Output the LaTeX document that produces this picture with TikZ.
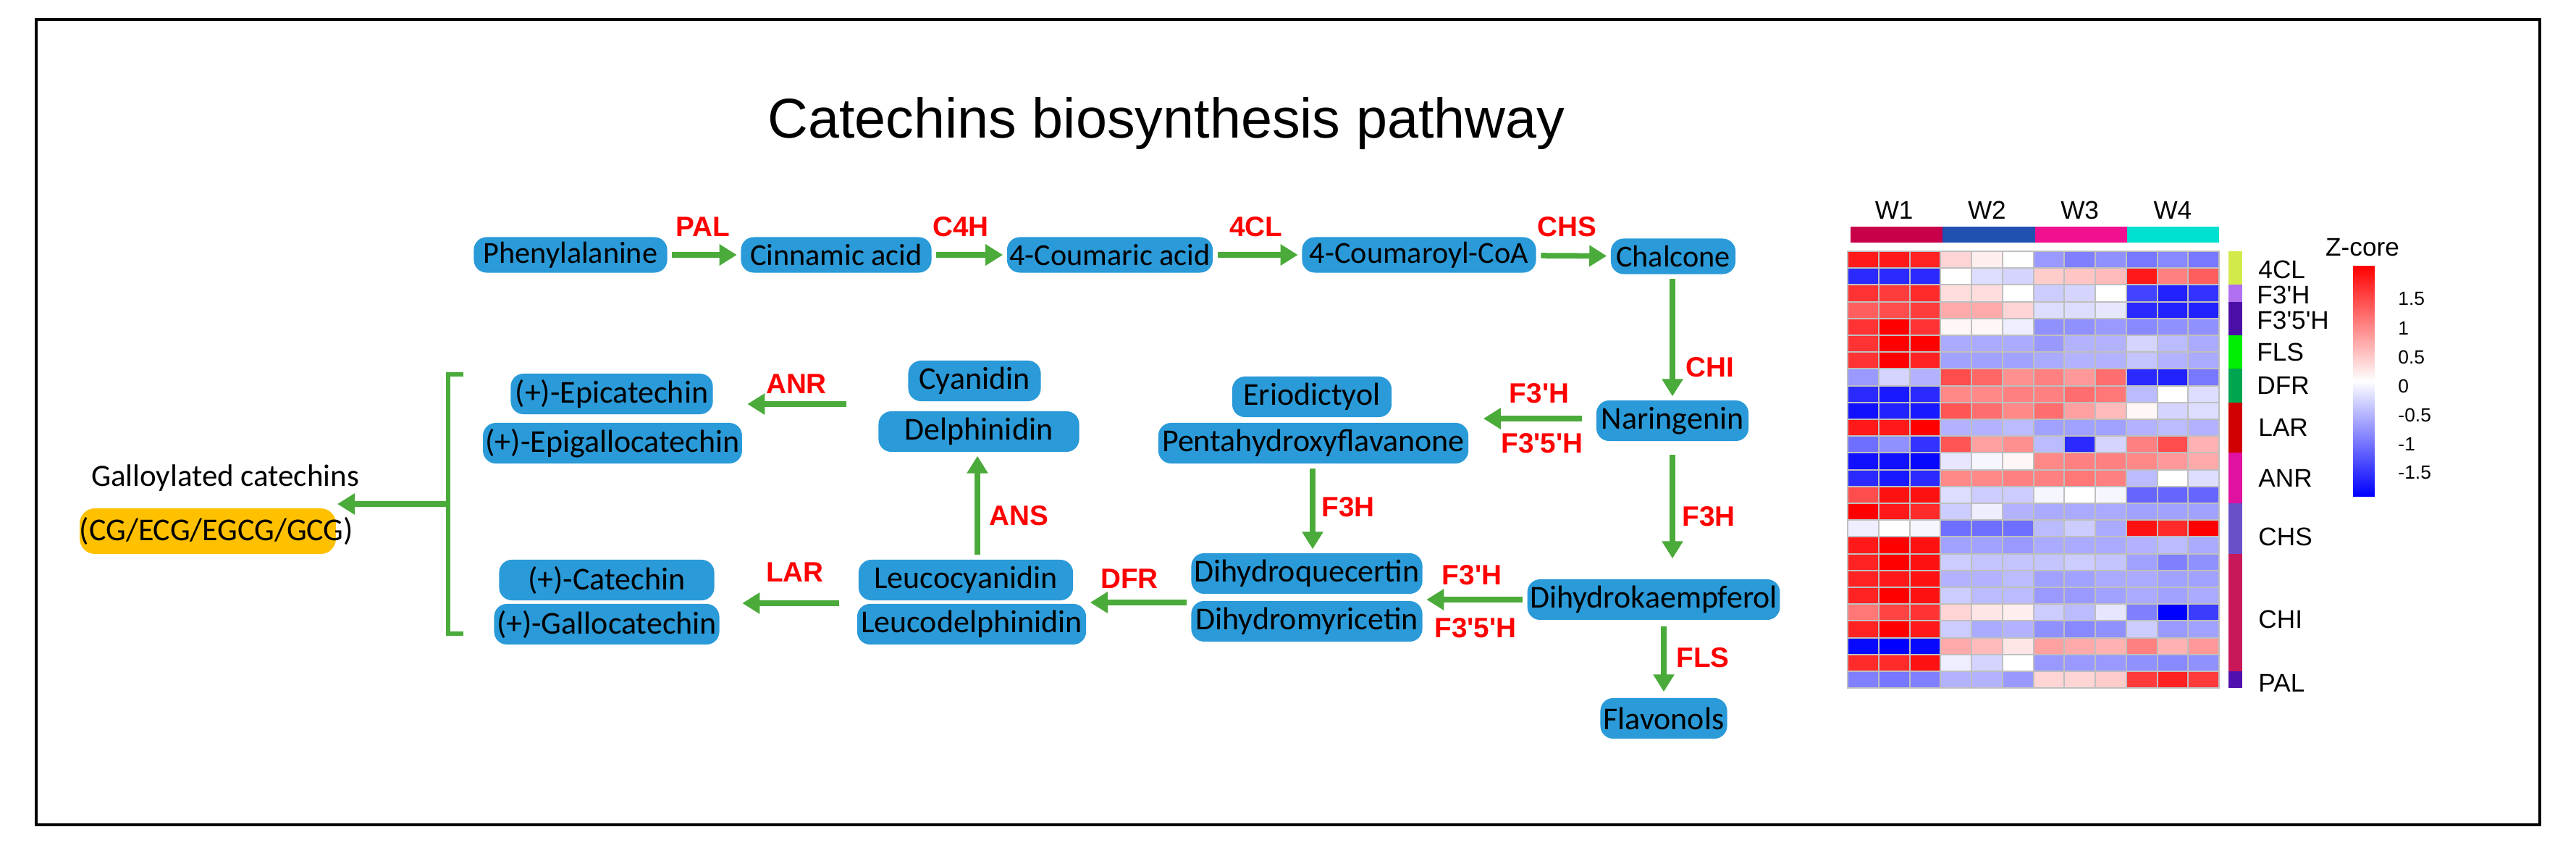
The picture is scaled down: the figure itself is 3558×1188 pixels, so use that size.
\documentclass[tikz,border=0pt]{standalone}
\usepackage{fontspec}
\setmainfont{Carlito}
\newfontfamily\arial{Liberation Sans}
\usetikzlibrary{arrows.meta}
\definecolor{bx}{HTML}{2A9AD8}
\definecolor{gr}{HTML}{4AAA3A}
\definecolor{og}{HTML}{FFC000}
\tikzset{
 box/.style={fill=bx,rounded corners=5pt,inner sep=1pt,minimum height=0.56cm,font=\fontsize{12.5}{12.5}\selectfont,text=black},
 rbox/.style={box,minimum height=0.49cm,font=\fontsize{12}{12}\selectfont},
 arr/.style={draw=gr,line width=0.075cm,-{Triangle[length=0.24cm,width=0.28cm]},shorten <=0.06cm,shorten >=0.05cm},
 enz/.style={text=red,font=\arial\bfseries\fontsize{11}{11}\selectfont},
 hl/.style={font=\arial\fontsize{10}{10}\selectfont},
}
\begin{document}
\begin{tikzpicture}[x=0.01cm,y=-0.01cm]
\useasboundingbox (0,0) rectangle (3558,1188);
\draw[line width=0.04cm] (50,27) rectangle (3508,1139);
\node[font=\arial\fontsize{22}{22}\selectfont] (title) at (1611,170) {Catechins biosynthesis pathway};
% row 1
\node[rbox,minimum width=2.67cm] (phe) at (788,352) {Phenylalanine};
\node[rbox,minimum width=2.63cm] (cin) at (1155,352) {Cinnamic acid};
\node[rbox,minimum width=2.84cm] (cou) at (1533,352) {4-Coumaric acid};
\node[rbox,minimum width=3.23cm] (coa) at (1960,352) {4-Coumaroyl-CoA};
\node[rbox,minimum width=1.72cm] (cha) at (2311,354) {Chalcone};
\draw[arr] (phe) -- (cin); \node[enz] (pal) at (971,313) {PAL};
\draw[arr] (cin) -- (cou); \node[enz] (c4h) at (1327,313) {C4H};
\draw[arr] (cou) -- (coa); \node[enz] (fcl) at (1735,313) {4CL};
\draw[arr] (coa) -- (cha); \node[enz] (chs) at (2164,313) {CHS};
% naringenin
\node[box,minimum width=2.10cm] (nar) at (2310,581) {Naringenin};
\draw[arr] (cha.south-|nar) -- (nar); \node[enz] (chi) at (2362,507) {CHI};
\node[box,minimum width=2.20cm] (eri) at (1812,548) {Eriodictyol};
\node[box,minimum width=4.28cm] (pen) at (1814,612) {Pentahydroxyflavanone};
\coordinate (npy) at (0,578);
\draw[arr,shorten <=0.19cm,shorten >=0.2cm] (nar.west|-npy) -- (pen.east|-npy);
\node[enz] (f3h1) at (2126,543) {F3'H};
\node[enz] (f35h1) at (2130,612) {F3'5'H};
% dihydro
\node[box,minimum width=3.19cm] (dhq) at (1805,792) {Dihydroquecertin};
\node[box,minimum width=3.19cm] (dhm) at (1805,858) {Dihydromyricetin};
\draw[arr] (pen.south-|1813,0) -- (dhq.north-|1813,0); \node[enz] (f3h2) at (1862,700) {F3H};
\node[box,minimum width=3.45cm] (dhk) at (2284,828) {Dihydrokaempferol};
\draw[arr,shorten <=0.18cm,shorten >=0.28cm] (nar) -- (nar|-dhk.north); \node[enz] (f3h3) at (2360,713) {F3H};
\draw[arr] (dhk.west) -- (dhq.east|-dhk.west);
\node[enz] (f3h4) at (2033,794) {F3'H};
\node[enz] (f35h2) at (2038,867) {F3'5'H};
\node[box,minimum width=1.75cm] (flv) at (2298,992) {Flavonols};
\draw[arr,shorten <=0.08cm,shorten >=0.08cm] (dhk.south-|flv) -- (flv); \node[enz] (fls) at (2352,908) {FLS};
% leuco
\node[box,minimum width=2.96cm] (lcy) at (1334,801) {Leucocyanidin};
\node[box,minimum width=3.16cm] (lde) at (1342,862) {Leucodelphinidin};
\coordinate (dfry) at (0,832);
\draw[arr] (dhq.west|-dfry) -- (lde.east|-dfry);
\node[enz] (dfr) at (1560,799) {DFR};
\node[box,minimum width=1.83cm] (cya) at (1346,526) {Cyanidin};
\node[box,minimum width=2.77cm] (del) at (1352,596) {Delphinidin};
\draw[arr] (lcy.north-|1350,0) -- (del.south-|1350,0); \node[enz] (ans) at (1407,712) {ANS};
% catechins
\node[box,minimum width=2.79cm] (epi) at (845,544) {(+)-Epicatechin};
\node[box,minimum width=3.48cm] (epg) at (846,612) {(+)-Epigallocatechin};
\coordinate (anry) at (0,558);
\draw[arr,shorten <=0.44cm,shorten >=0.47cm] (del.west|-anry) -- (epi.east|-anry);
\node[enz] (anr) at (1100,530) {ANR};
\node[box,minimum width=2.97cm] (cat) at (838,801) {(+)-Catechin};
\node[box,minimum width=2.97cm] (gal) at (838,862) {(+)-Gallocatechin};
\coordinate (lary) at (0,833);
\draw[arr,shorten <=0.26cm,shorten >=0.38cm] (lcy.west|-lary) -- (cat.east|-lary);
\node[enz] (lar) at (1098,790) {LAR};
% bracket
\draw[gr,line width=0.06cm] (640,517) -- (619,517) -- (619,875) -- (640,875);
\coordinate (brk) at (619,696);
\node[font=\fontsize{12.2}{12.2}\selectfont] (gct) at (311,660) {Galloylated catechins};
\fill[og,rounded corners=6pt] (110,702) rectangle (464,765);
\node[font=\fontsize{12.5}{12.5}\selectfont] (gbx) at (299,733) {(CG/ECG/EGCG/GCG)};
\coordinate (gtip) at (466,696);
\draw[arr,shorten <=0cm,shorten >=0cm] (brk) -- (gtip);
% heatmap
\foreach \w/\c [count=\i] in {W1/C8004A,W2/2050B0,W3/F01090,W4/00E0D0}{
  \definecolor{wc}{HTML}{\c}
  \fill[wc] ({2556+(\i-1)*127.25},313) rectangle +(127.25,22);
  \node[hl] at ({2552+(\i-0.5)*128.25},290) {\w};
}
\foreach \row [count=\r] in {
{2.7,2.7,2.6,0.5,0.2,0,-1.2,-1.5,-1.3,-1.6,-1.4,-1.6},
{-2.5,-2.5,-2.5,0,-0.4,-0.5,0.6,0.7,0.8,2.7,1.5,1.9},
{2.4,2.3,2.5,0.4,0.4,0,-0.6,-0.5,0,-2.2,-2.6,-2.4},
{1.9,2.1,2.3,1,1,0.5,-0.4,-0.4,-0.3,-2.5,-2.6,-2.6},
{2.4,3,2.4,0.1,0.1,-0.2,-1.3,-1.3,-1.2,-1.4,-1.3,-1.3},
{2.4,3,3,-1,-1,-1,-1.2,-0.9,-0.9,-0.5,-0.8,-1},
{2.4,3,2.6,-1.1,-1.1,-1.1,-1,-0.9,-0.9,-0.7,-0.9,-1},
{-1.2,-0.5,-0.9,2.1,1.8,1.3,1.5,1.2,1.7,-2.5,-2.6,-1.6},
{-2.5,-2.7,-2.5,1.4,1.4,1.5,1.5,1.7,1.6,-0.8,0,-0.4},
{-2.8,-2.6,-2.7,2,1.7,1.4,1.7,1.1,0.8,0.1,-0.5,-0.4},
{2.7,2.7,3,-0.9,-0.9,-0.8,-1.1,-1.1,-1.1,-0.9,-0.8,-0.9},
{-1.7,-1.3,-2.4,2,1.1,1.3,-0.8,-2.5,-0.5,1.5,2.1,0.9},
{-2.8,-2.8,-2.9,-0.3,-0.1,0.1,1.4,1.5,1.5,1.4,1.2,1},
{-2.5,-2.7,-2.5,1.4,1.4,1.5,1.5,1.6,1.5,-0.8,0,-0.4},
{2.1,2.8,2.8,-0.4,-0.6,-0.6,-0.1,0,-0.1,-1.8,-1.8,-1.8},
{3,2.7,2.5,-0.6,-0.2,-0.9,-1,-1,-1,-1.1,-1.1,-1.1},
{-0.2,0,-0.1,-1.7,-1.7,-1.7,-0.8,-0.6,-1,2.8,2.5,3},
{2.7,3,2.8,-1.1,-1.1,-1.2,-1,-1,-1,-0.9,-0.8,-1},
{2.6,3,2.8,-0.6,-0.7,-0.7,-0.7,-0.6,-0.7,-1.1,-1.5,-1.3},
{2.6,2.7,2.8,-0.9,-0.9,-0.8,-1.1,-1.1,-1,-1,-1.1,-1.1},
{2.6,3,2.8,-0.6,-0.8,-0.8,-1.2,-1.2,-1.1,-1,-1.1,-1},
{1.6,2.2,2.4,0.5,0.3,0.2,-0.6,-0.8,-0.3,-1.5,-3,-2.3},
{2.6,3,2.7,-0.6,-1,-0.9,-1.3,-1.4,-1.3,-0.6,-1.2,-1.1},
{-2.9,-3,-2.9,1,0.8,0.3,1.1,1,0.9,1.5,0.9,1.2},
{2.5,2.5,2.8,-0.2,-0.5,0,-1.2,-1.2,-1.2,-1.3,-1.4,-1.3},
{-1.5,-1.6,-1.5,-0.9,-0.9,-1.2,0.5,0.5,0.6,2.3,2.6,2.3}}{
  \foreach \v [count=\c] in \row {
    \pgfmathsetmacro\p{min(100,abs(\v)/3*100)}
    \pgfmathparse{\v>0 ? 1 : 0}
    \ifnum\pgfmathresult=1 \def\hc{red}\else\def\hc{blue}\fi
    \fill[fill=\hc!\p!white,draw=black!25,line width=0.02cm] ({2552+(\c-1)*42.75},{347+(\r-1)*23.2}) rectangle +(42.75,23.2);
  }
}
% side bar
\foreach \a/\n/\c in {0/2/D4E94A,2/1/B070F0,3/2/4B0FA8,5/2/00EE00,7/2/00A550,9/3/D00000,12/3/E010A0,15/3/6A50C8,18/7/C8185A,25/1/5010B0}{
  \definecolor{sc}{HTML}{\c}
  \fill[sc] (3078,{347+\a*23.2}) rectangle (3097,{347+(\a+\n)*23.2});
}
\node[hl,anchor=west] at (3107,{347+1.1*23.2}) {4CL};
\node[hl,anchor=west] at (3105,{347+2.6*23.2}) {F3'H};
\node[hl,anchor=west] at (3105,{347+4.1*23.2}) {F3'5'H};
\node[hl,anchor=west] at (3105,{347+6*23.2}) {FLS};
\node[hl,anchor=west] at (3105,{347+8*23.2}) {DFR};
\node[hl,anchor=west] at (3107,{347+10.5*23.2}) {LAR};
\node[hl,anchor=west] at (3107,{347+13.5*23.2}) {ANR};
\node[hl,anchor=west] at (3107,{347+17*23.2}) {CHS};
\node[hl,anchor=west] at (3107,855) {CHI};
\node[hl,anchor=west] at (3107,943) {PAL};
% colour bar
\node[hl] (zc) at (3263,342) {Z-core};
\shade[top color=red,bottom color=white] (3250,367) rectangle (3280,526);
\shade[top color=white,bottom color=blue] (3250,526) rectangle (3280,685);
\foreach \t [count=\k] in {1.5,1,0.5,0,-0.5,-1,-1.5}{
  \node[anchor=west,font=\arial\fontsize{7.5}{7.5}\selectfont] at (3300,{413+(\k-1)*40}) {\t};
}
\end{tikzpicture}
\end{document}
